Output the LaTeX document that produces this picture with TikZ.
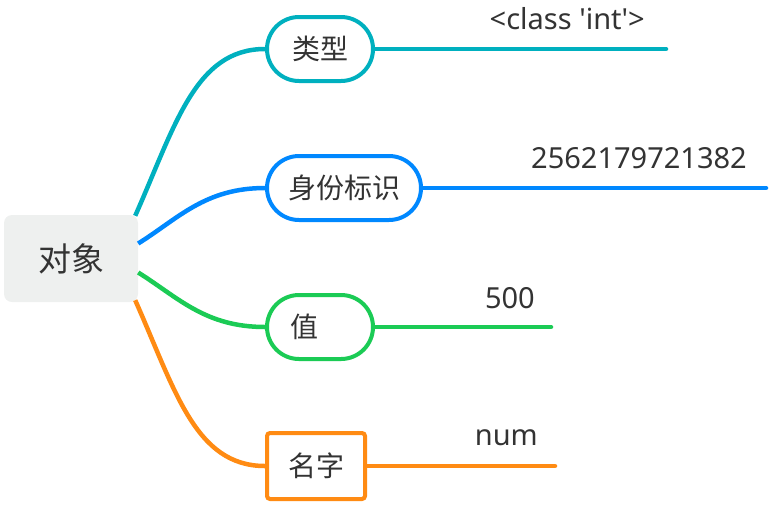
\documentclass[tikz,border=0pt]{standalone}
\usepackage{fontspec}
\setmainfont{Noto Sans}
\newfontfamily\cjk{Noto Sans CJK SC}
\usepackage{tikz}
\usetikzlibrary{positioning,calc}
\definecolor{MapTeal}{HTML}{00B0BF}
\definecolor{MapBlue}{HTML}{0088FF}
\definecolor{MapGreen}{HTML}{1BCB55}
\definecolor{MapOrange}{HTML}{FF8B13}
\definecolor{MapGray}{HTML}{EEF0EF}
\definecolor{MapText}{HTML}{333333}
\tikzset{
  rootbox/.style={fill=MapGray,rounded corners=8pt,minimum width=134pt,minimum height=87pt,
    font=\cjk\fontsize{33}{33}\selectfont,text=MapText},
  pill/.style={draw,line width=4pt,fill=white,rounded corners=32pt,minimum height=64pt,
    font=\cjk\fontsize{28}{28}\selectfont,text=MapText},
  sqbox/.style={draw,line width=4pt,fill=white,rounded corners=3pt,minimum height=66pt,
    font=\cjk\fontsize{28}{28}\selectfont,text=MapText},
  tag/.style={anchor=base east,inner sep=0pt,font=\fontsize{29}{29}\selectfont,text=MapText},
  branch/.style={line width=4.5pt},
  leaf/.style={line width=4.5pt,line cap=round},
}

\begin{document}
\begin{tikzpicture}[x=1pt,y=-1pt]
\useasboundingbox (0,0) rectangle (775,515);
% nodes
\node[rootbox] (obj) at (71,258.5) {对象};
\node[pill, draw=MapTeal, minimum width=106pt] (type) at (320,49) {类型};
\node[pill, draw=MapBlue, minimum width=154pt] (ident) at (344,188) {身份标识};
\node[pill, draw=MapGreen, minimum width=106pt, text width=60pt, align=left] (value) at (320,327) {值};
\node[sqbox, draw=MapOrange, minimum width=98pt] (name) at (316,466) {名字};
% branches
\draw[branch, MapTeal] ($(obj.north east)+(-3,1)$) .. controls +(40,-90) and +(-70,0) .. (type.west);
\draw[branch, MapBlue] ($(obj.east)+(0,-15)$) .. controls +(40,-25) and +(-60,0) .. (ident.west);
\draw[branch, MapGreen] ($(obj.east)+(0,14)$) .. controls +(40,25) and +(-60,0) .. (value.west);
\draw[branch, MapOrange] ($(obj.south east)+(-3,-2)$) .. controls +(40,90) and +(-70,0) .. (name.west);
% leaves
\coordinate (typeEnd) at (666,49);
\coordinate (identEnd) at (766,188);
\coordinate (valueEnd) at (551,327);
\coordinate (nameEnd) at (555,466);
\draw[leaf, MapTeal] (type.east) -- (typeEnd);
\draw[leaf, MapBlue] (ident.east) -- (identEnd);
\draw[leaf, MapGreen] (value.east) -- (valueEnd);
\draw[leaf, MapOrange] (name.east) -- (nameEnd);
\node[tag] (typeVal) at (645,29) {<class \textquotesingle int\textquotesingle>};
\node[tag] (identVal) at (747,168) {2562179721382};
\node[tag] (valueVal) at (535,308) {500};
\node[tag] (nameVal) at (538,445) {num};
\end{tikzpicture}
\end{document}
